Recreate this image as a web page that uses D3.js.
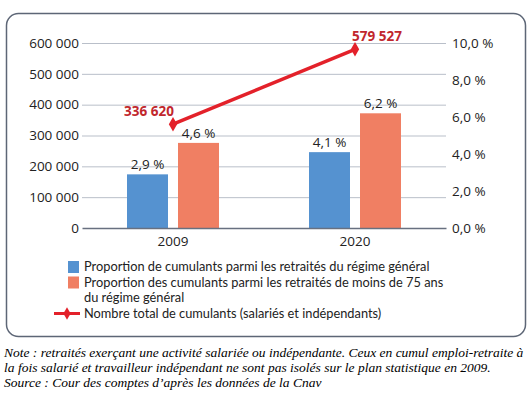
<!DOCTYPE html>
<html>
<head>
<meta charset="utf-8">
<script src="https://cdn.jsdelivr.net/npm/d3@7"></script>
<style>
  body { margin: 0; background: #fff; }
  svg { display: block; }
</style>
</head>
<body>
<div id="chart"></div>
<script>
// Data
var years = ["2009", "2020"];
var partGeneral = [2.9, 4.1];      // % cumulants parmi les retraités du régime général
var partMoins75 = [4.6, 6.2];      // % cumulants parmi les retraités de moins de 75 ans
var totalCumulants = [336620, 579527];
var leftTicks = [0, 100000, 200000, 300000, 400000, 500000, 600000];
var rightTicks = [0, 2, 4, 6, 8, 10];
var legendLabels = [
  ["Proportion de cumulants parmi les retraités du régime général"],
  ["Proportion des cumulants parmi les retraités de moins de 75 ans", "du régime général"],
  ["Nombre total de cumulants (salariés et indépendants)"]
];
var noteLines = [
  "Note : retraités exerçant une activité salariée ou indépendante. Ceux en cumul emploi-retraite à",
  "la fois salarié et travailleur indépendant ne sont pas isolés sur le plan statistique en 2009.",
  "Source : Cour des comptes d’après les données de la Cnav"
];

// Config
var W = 531, H = 394;
var font = "'Open Sans', sans-serif";
var blue = "#5592d0", orange = "#f07f63", red = "#e3212a", darkred = "#c1272d";
var plot = {left: 82, right: 446, top: 43, bottom: 228};

var svg = d3.select("#chart").append("svg")
  .attr("width", W)
  .attr("height", H);

// Frame
svg.append("rect")
  .attr("x", 6.5).attr("y", 13.5)
  .attr("width", 519).attr("height", 323)
  .attr("rx", 12).attr("ry", 12)
  .attr("fill", "none")
  .attr("stroke", "#5d6676")
  .attr("stroke-width", 1.5);

// Scales
var x = d3.scaleBand().domain(years).range([plot.left, plot.right]);
var yL = d3.scaleLinear().domain([0, 600000]).range([plot.bottom, plot.top]);
var yR = d3.scaleLinear().domain([0, 10]).range([plot.bottom, plot.top]);
var fmtNum = function(d) { return d3.format(",")(d).replace(/,/g, " "); };
var fmtPct = function(d) { return d3.format(".1f")(d).replace(".", ",") + " %"; };

// Grid
svg.append("g")
  .selectAll("line")
  .data(leftTicks.filter(function(d) { return d > 0; }))
  .enter()
  .append("line")
  .attr("x1", plot.left)
  .attr("x2", plot.right)
  .attr("y1", function(d) { return yL(d) + 0.5; })
  .attr("y2", function(d) { return yL(d) + 0.5; })
  .attr("stroke", "#b9bfc9")
  .attr("stroke-width", 1);

// Left axis
var gl = svg.append("g")
  .attr("transform", "translate(" + (plot.left - 3) + ",0)")
  .call(d3.axisLeft(yL).tickValues(leftTicks).tickSize(0).tickPadding(0).tickFormat(fmtNum));
gl.select(".domain").remove();
gl.selectAll("text")
  .attr("font-family", font)
  .attr("font-size", 13.5)
  .attr("fill", "#222");

// Right axis
var gr = svg.append("g")
  .attr("transform", "translate(" + (plot.right + 6) + ",0)")
  .call(d3.axisRight(yR).tickValues(rightTicks).tickSize(0).tickPadding(0).tickFormat(fmtPct));
gr.select(".domain").remove();
gr.selectAll("text")
  .attr("font-family", font)
  .attr("font-size", 13.5)
  .attr("fill", "#222");

// Bars
var bw = 41, gap = 10;
var series = [
  {vals: partGeneral, color: blue, off: -(bw + gap / 2)},
  {vals: partMoins75, color: orange, off: gap / 2}
];
series.forEach(function(s) {
  var g = svg.append("g");
  g.selectAll("rect")
    .data(s.vals)
    .enter()
    .append("rect")
    .attr("x", function(d, i) { return x(years[i]) + x.bandwidth() / 2 + s.off; })
    .attr("y", function(d) { return yR(d); })
    .attr("width", bw)
    .attr("height", function(d) { return yR(0) - yR(d); })
    .attr("fill", s.color);
  g.selectAll("text")
    .data(s.vals)
    .enter()
    .append("text")
    .text(function(d) { return fmtPct(d); })
    .attr("x", function(d, i) { return x(years[i]) + x.bandwidth() / 2 + s.off + bw / 2; })
    .attr("y", function(d) { return yR(d) - 5; })
    .attr("text-anchor", "middle")
    .attr("font-family", font)
    .attr("font-size", 13.5)
    .attr("fill", "#222");
});

// X axis
var gx = svg.append("g")
  .attr("transform", "translate(0," + plot.bottom + ")")
  .call(d3.axisBottom(x).tickSize(0).tickPadding(8));
gx.select(".domain")
  .attr("stroke", "#687080")
  .attr("stroke-width", 1.5);
gx.selectAll("text")
  .attr("font-family", font)
  .attr("font-size", 13.5)
  .attr("fill", "#222");

// Line
var line = d3.line()
  .x(function(d, i) { return x(years[i]) + x.bandwidth() / 2; })
  .y(function(d) { return yL(d); });
svg.append("path")
  .datum(totalCumulants)
  .attr("d", line)
  .attr("fill", "none")
  .attr("stroke", red)
  .attr("stroke-width", 3.5);
svg.selectAll(".pt")
  .data(totalCumulants)
  .enter()
  .append("path")
  .attr("class", "pt")
  .attr("d", d3.symbol().type(d3.symbolDiamond).size(60))
  .attr("transform", function(d, i) {
    return "translate(" + (x(years[i]) + x.bandwidth() / 2) + "," + yL(d) + ")";
  })
  .attr("fill", red);
svg.selectAll(".ptlab")
  .data(totalCumulants)
  .enter()
  .append("text")
  .attr("class", "ptlab")
  .text(function(d) { return fmtNum(d); })
  .attr("x", function(d, i) { return x(years[i]) + x.bandwidth() / 2 + (i == 0 ? -24 : 22); })
  .attr("y", function(d) { return yL(d) - 8; })
  .attr("text-anchor", "middle")
  .attr("font-family", font)
  .attr("font-size", 13.5)
  .attr("font-weight", "bold")
  .attr("fill", darkred);

// Legend (Lato: tighter line box, keeps the stacked lines apart)
var lg = svg.append("g");
var lx = 84, ly = [271, 286.5, 317.5], lh = 15.5;
[blue, orange].forEach(function(c, i) {
  lg.append("rect")
    .attr("x", 68).attr("y", ly[i] - 10)
    .attr("width", 11).attr("height", 12)
    .attr("fill", c);
});
lg.append("line")
  .attr("x1", 54).attr("x2", 80)
  .attr("y1", ly[2] - 4).attr("y2", ly[2] - 4)
  .attr("stroke", red).attr("stroke-width", 3);
lg.append("path")
  .attr("d", d3.symbol().type(d3.symbolDiamond).size(45))
  .attr("transform", "translate(67," + (ly[2] - 4) + ")")
  .attr("fill", red);
legendLabels.forEach(function(lines, i) {
  lines.forEach(function(t, j) {
    lg.append("text")
      .text(t)
      .attr("x", lx)
      .attr("y", ly[i] + j * lh)
      .attr("font-family", "Lato, sans-serif")
      .attr("font-size", 12.8)
      .attr("fill", "#222");
  });
});

// Note
noteLines.forEach(function(t, i) {
  svg.append("text")
    .text(t)
    .attr("x", 4)
    .attr("y", 357 + i * 15)
    .style("font-family", "'Liberation Serif', serif")
    .style("font-style", "italic")
    .style("font-size", "13.5px")
    .attr("fill", "#000");
});
</script>
</body>
</html>
